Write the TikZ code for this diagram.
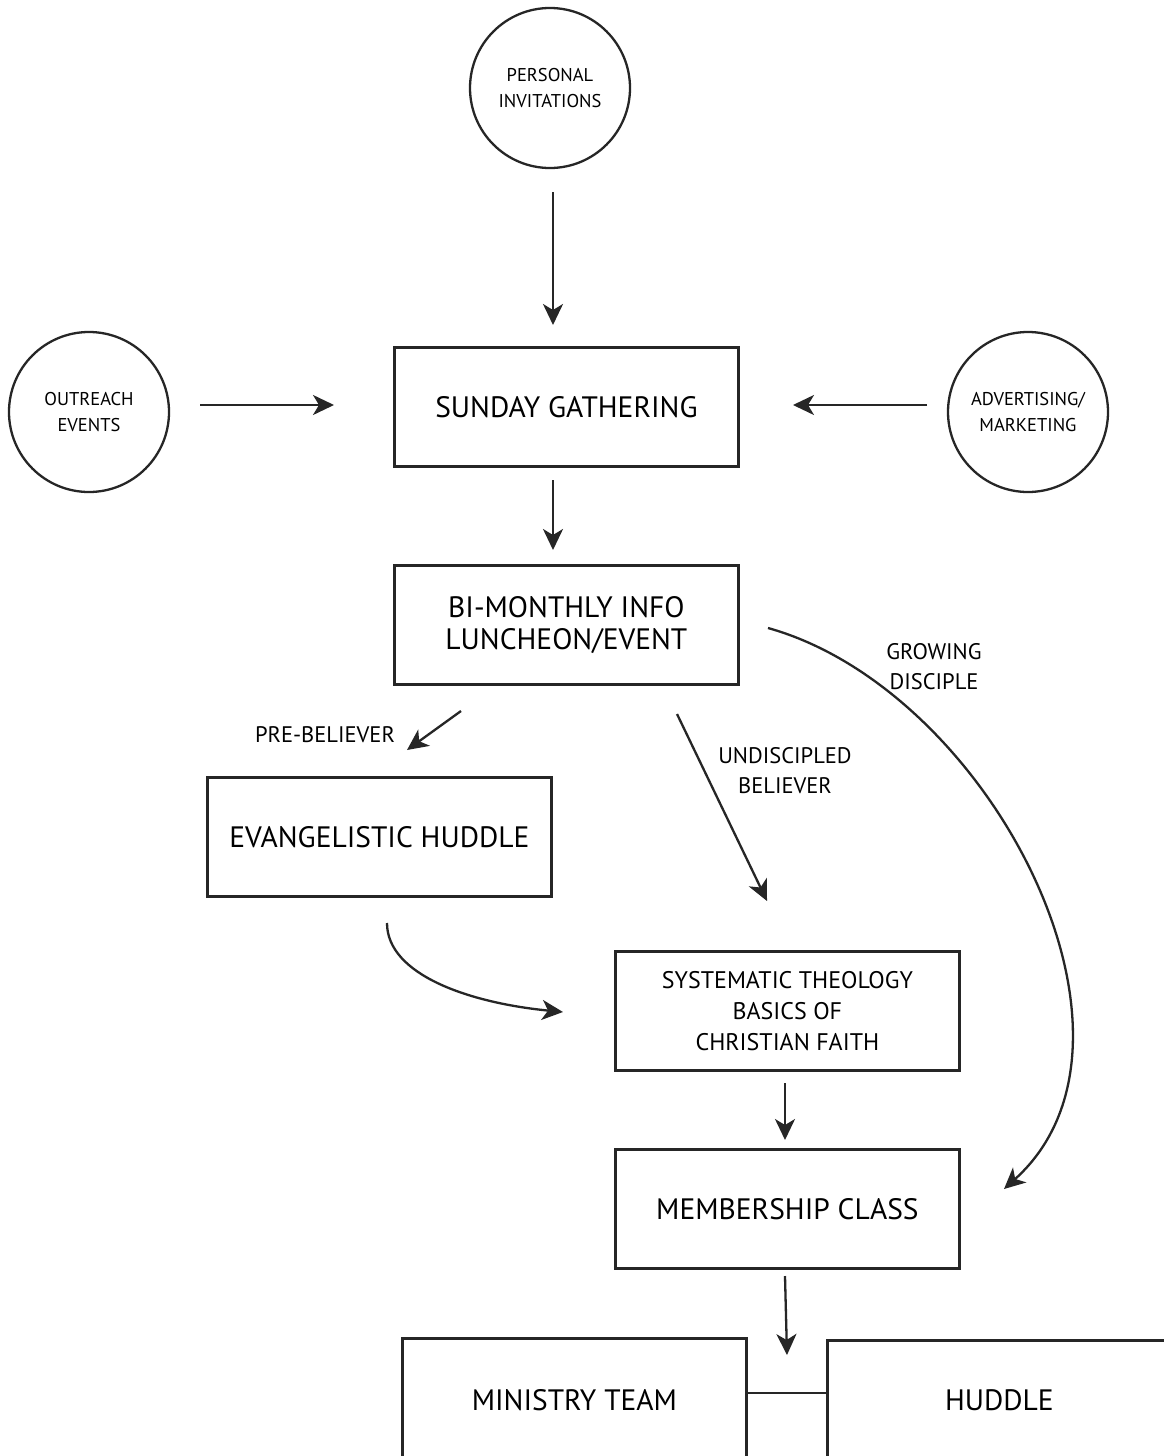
\documentclass[tikz,border=0pt]{standalone}
\usepackage{fontspec}
\setmainfont{PT Sans}
\usetikzlibrary{arrows.meta}
\begin{document}
\begin{tikzpicture}[x=1pt,y=-1pt,
  box/.style={draw=black!85,line width=2.8pt,minimum width=344pt,minimum height=119pt,inner sep=0pt,anchor=north west,align=center},
  circ/.style={draw=black!85,line width=2.3pt,circle,minimum size=160pt,inner sep=0pt,align=center,font=\fontsize{18.5}{26}\selectfont},
  big/.style={font=\fontsize{29.5}{32}\selectfont},
  mid/.style={font=\fontsize{24}{31}\selectfont},
  lbl/.style={align=center,font=\fontsize{22.5}{30}\selectfont},
  conn/.style={draw=black!85,line width=2.3pt,-{Stealth[length=21pt,width=20pt,inset=6pt]}},
  plain/.style={draw=black!85,line width=2.6pt}]
\useasboundingbox (0,0) rectangle (1164,1456);
\fill[white] (0,0) rectangle (1164,1456);
\node[circ] (pi) at (550,88) {PERSONAL\\INVITATIONS};
\node[circ] (oe) at (89,412) {OUTREACH\\EVENTS};
\node[circ] (am) at (1028,412) {ADVERTISING/\\MARKETING};
\node[box,big] (sg) at (393,346) {SUNDAY GATHERING};
\node[box,big] (bm) at (393,564) {BI-MONTHLY INFO\\LUNCHEON/EVENT};
\node[box,big] (eh) at (206,776) {EVANGELISTIC HUDDLE};
\node[box,mid] (st) at (614,950) {SYSTEMATIC THEOLOGY\\BASICS OF\\CHRISTIAN FAITH};
\node[box,big] (mc) at (614,1148) {MEMBERSHIP CLASS};
\node[box,big,minimum height=124pt] (mt) at (401,1337) {MINISTRY TEAM};
\node[box,big,minimum height=120pt] (hu) at (826,1339) {HUDDLE};
\node[lbl] (gd) at (934,667) {GROWING\\DISCIPLE};
\node[lbl] (pb) at (325,735) {PRE-BELIEVER};
\node[lbl] (ub) at (785,771) {UNDISCIPLED\\BELIEVER};
\coordinate (a1s) at (553,192); \coordinate (a1e) at (553,325);
\coordinate (a2s) at (200,405); \coordinate (a2e) at (334,405);
\coordinate (a3s) at (927,405); \coordinate (a3e) at (793,405);
\coordinate (a4s) at (553,480); \coordinate (a4e) at (553,550);
\coordinate (a5s) at (461,711); \coordinate (a5e) at (407,750);
\coordinate (a6s) at (677,714); \coordinate (a6e) at (767,901);
\coordinate (a7s) at (387,923); \coordinate (a7e) at (563,1012);
\coordinate (a8s) at (768,628); \coordinate (a8e) at (1004,1189);
\coordinate (a9s) at (785,1083); \coordinate (a9e) at (785,1140);
\coordinate (a10s) at (785,1276); \coordinate (a10e) at (787,1355);
\draw[conn] (a1s) -- (a1e);
\draw[conn] (a2s) -- (a2e);
\draw[conn] (a3s) -- (a3e);
\draw[conn] (a4s) -- (a4e);
\draw[conn] (a5s) -- (a5e);
\draw[conn] (a6s) -- (a6e);
\draw[conn] (a7s) .. controls (387,975) and (470,1003) .. (a7e);
\draw[conn] (a8s) .. controls (990,690) and (1170,1040) .. (a8e);
\draw[conn] (a9s) -- (a9e);
\draw[conn] (a10s) -- (a10e);
\draw[plain] (mt.east |- 0,1393) -- (hu.west |- 0,1393);
\end{tikzpicture}
\end{document}
